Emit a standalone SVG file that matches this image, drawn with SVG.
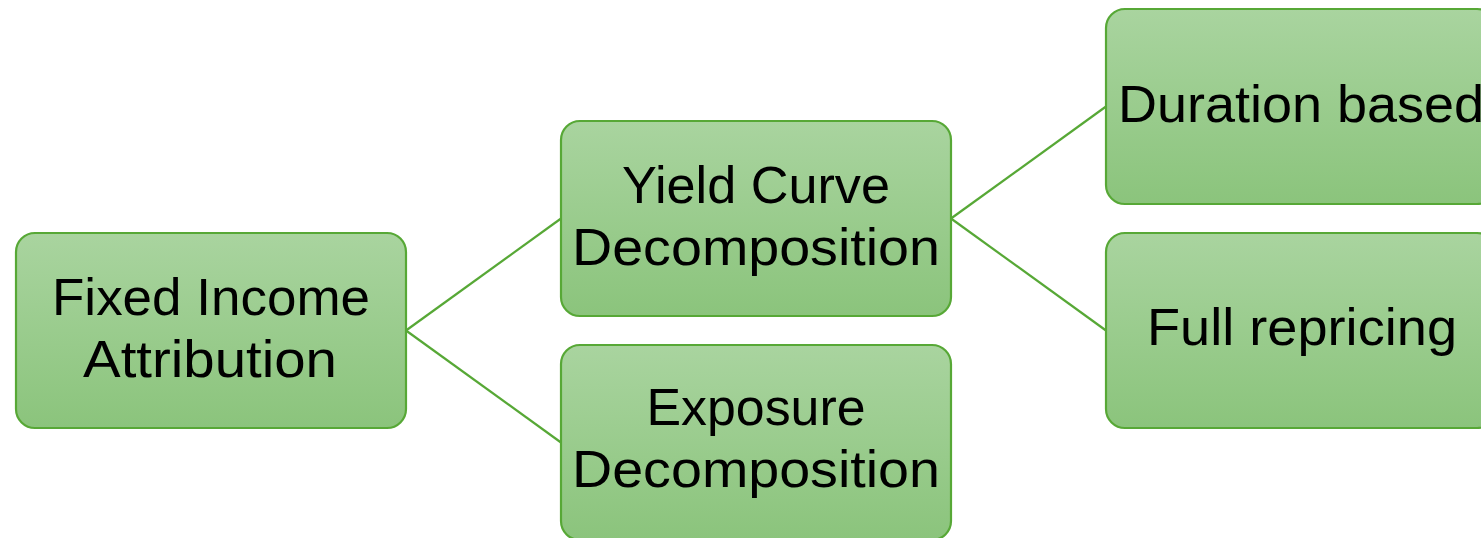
<svg xmlns="http://www.w3.org/2000/svg" width="1481" height="538" viewBox="0 0 1481 538">
  <defs>
    <linearGradient id="boxFill" x1="0" y1="0" x2="0" y2="1">
      <stop offset="0" stop-color="#a9d49f"/>
      <stop offset="1" stop-color="#8bc47c"/>
    </linearGradient>
  </defs>
  <style>
    .box { fill: url(#boxFill); stroke: #57a836; stroke-width: 2.2; }
    .lbl { font-family: "Liberation Sans", Arial, sans-serif; font-size: 52px; fill: #000; text-anchor: middle; }
    .link { stroke: #57a836; stroke-width: 2.2; fill: none; }
  </style>
  <rect width="1481" height="538" fill="#ffffff"/>

  <!-- tree connectors -->
  <g id="connectors">
    <line class="link" x1="406" y1="330.5" x2="561" y2="218.5"/>
    <line class="link" x1="406" y1="330.5" x2="561" y2="442.5"/>
    <line class="link" x1="951" y1="218.5" x2="1106" y2="106.5"/>
    <line class="link" x1="951" y1="218.5" x2="1106" y2="330.5"/>
  </g>

  <g id="fixed-income-attribution">
    <rect class="box" x="16" y="233" width="390" height="195" rx="19"/>
    <text class="lbl" x="211" y="315" textLength="318" lengthAdjust="spacingAndGlyphs">Fixed Income</text>
    <text class="lbl" x="210" y="377" textLength="254" lengthAdjust="spacingAndGlyphs">Attribution</text>
  </g>

  <g id="yield-curve-decomposition">
    <rect class="box" x="561" y="121" width="390" height="195" rx="19"/>
    <text class="lbl" x="756" y="203" textLength="268" lengthAdjust="spacingAndGlyphs">Yield Curve</text>
    <text class="lbl" x="756" y="265" textLength="368" lengthAdjust="spacingAndGlyphs">Decomposition</text>
  </g>

  <g id="exposure-decomposition">
    <rect class="box" x="561" y="345" width="390" height="195" rx="19"/>
    <text class="lbl" x="756" y="425" textLength="219" lengthAdjust="spacingAndGlyphs">Exposure</text>
    <text class="lbl" x="756" y="487" textLength="368" lengthAdjust="spacingAndGlyphs">Decomposition</text>
  </g>

  <g id="duration-based">
    <rect class="box" x="1106" y="9" width="390" height="195" rx="19"/>
    <text class="lbl" x="1301" y="122" textLength="366" lengthAdjust="spacingAndGlyphs">Duration based</text>
  </g>

  <g id="full-repricing">
    <rect class="box" x="1106" y="233" width="390" height="195" rx="19"/>
    <text class="lbl" x="1302" y="345" textLength="310" lengthAdjust="spacingAndGlyphs">Full repricing</text>
  </g>
</svg>
